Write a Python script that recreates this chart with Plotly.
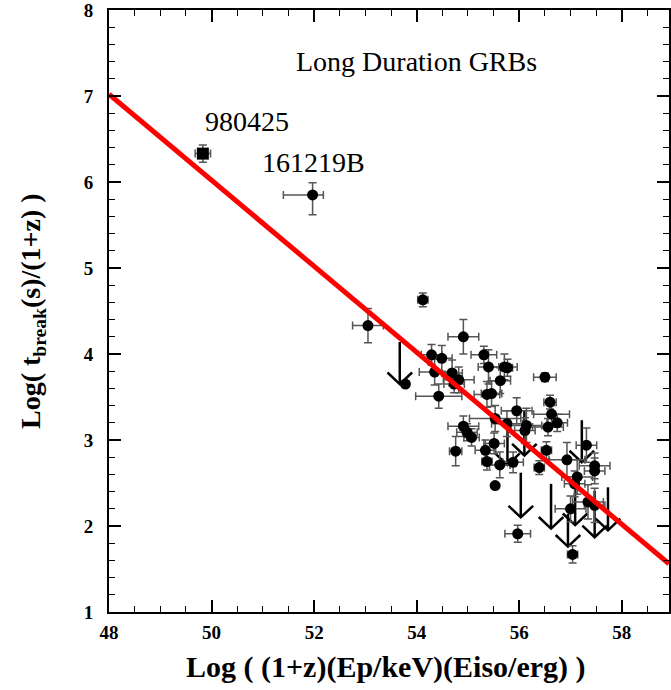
import plotly.graph_objects as go

# ---- data ----
grb_x = [53.05, 54.12, 54.91, 54.29, 54.49, 55.31, 55.40, 55.71, 55.77, 54.35,
         54.69, 54.82, 54.73, 53.78, 55.63, 54.43, 55.37, 55.46, 56.50, 55.95,
         56.60, 56.63, 56.74, 56.56, 55.53, 55.76, 56.14, 56.11, 54.91, 54.98,
         55.07, 55.51, 54.76, 55.34, 55.37, 55.62, 55.88, 56.53, 56.39, 56.93,
         57.31, 57.47, 57.47, 57.13, 57.08, 55.53, 57.34, 57.47, 57.00, 55.97,
         57.04]
grb_y = [4.33, 4.63, 4.20, 3.99, 3.95, 3.99, 3.85, 3.85, 3.84, 3.79,
         3.78, 3.70, 3.65, 3.65, 3.69, 3.51, 3.53, 3.54, 3.73, 3.34,
         3.44, 3.30, 3.20, 3.15, 3.25, 3.19, 3.17, 3.11, 3.16, 3.09,
         3.03, 2.96, 2.87, 2.88, 2.75, 2.71, 2.74, 2.88, 2.68, 2.77,
         2.94, 2.70, 2.64, 2.57, 2.49, 2.47, 2.28, 2.24, 2.20, 1.91,
         1.67]
grb_xerr = [0.30, 0.10, 0.30, 0.20, 0.20, 0.25, 0.20, 0.25, 0.10, 0.30,
            0.20, 0.30, 0.20, 0.00, 0.20, 0.45, 0.25, 0.20, 0.22, 0.30,
            0.12, 0.35, 0.20, 0.30, 0.50, 0.30, 0.30, 0.20, 0.30, 0.20,
            0.15, 0.20, 0.12, 0.20, 0.10, 0.20, 0.20, 0.10, 0.10, 0.35,
            0.20, 0.30, 0.20, 0.30, 0.20, 0.00, 0.30, 0.20, 0.30, 0.25,
            0.10]
grb_yerr = [0.20, 0.08, 0.20, 0.12, 0.15, 0.10, 0.20, 0.15, 0.10, 0.15,
            0.15, 0.15, 0.10, 0.00, 0.15, 0.14, 0.15, 0.15, 0.05, 0.15,
            0.08, 0.10, 0.10, 0.10, 0.15, 0.15, 0.20, 0.15, 0.12, 0.10,
            0.10, 0.12, 0.17, 0.12, 0.10, 0.15, 0.12, 0.10, 0.08, 0.20,
            0.20, 0.15, 0.15, 0.20, 0.15, 0.00, 0.20, 0.20, 0.15, 0.10,
            0.10]

# 161219B (asymmetric errors)
b_x = [51.97]
b_y = [5.85]
b_xerr_lo = [0.57]
b_xerr_hi = [0.21]
b_yerr_lo = [0.23]
b_yerr_hi = [0.14]

# 980425
sq_x = [49.83]
sq_y = [6.33]
sq_xerr = [0.15]
sq_yerr = [0.10]

# upper limits (arrows)
ul_x = [53.67, 57.22, 56.03, 56.62, 56.95, 57.09, 57.47, 57.73, 56.10, 55.77]
ul_y = [4.14, 3.23, 2.62, 2.49, 2.14, 2.45, 2.41, 2.45, 3.34, 3.13]
ul_tip = [3.65, 2.74, 2.10, 1.97, 1.76, 2.01, 1.87, 1.95, 2.82, 2.71]

# best-fit line
fit_slope = -0.5
fit_intercept = 31.02

x_range = [48, 58.92]
y_range = [1, 8]

SERIF = "Liberation Serif"
ERR_COLOR = "#555555"

fig = go.Figure()

# arrows (upper limits)
head_w, head_h = 0.24, 0.135
ax, ay = [], []
for x, top, tip in zip(ul_x, ul_y, ul_tip):
    ax += [x, x, None, x - head_w, x, x + head_w, None]
    ay += [top, tip, None, tip + head_h, tip, tip + head_h, None]
fig.add_trace(go.Scatter(x=ax, y=ay, mode="lines",
                         line=dict(color="black", width=2.5),
                         hoverinfo="skip", showlegend=False))

# main GRB sample
fig.add_trace(go.Scatter(
    x=grb_x, y=grb_y, mode="markers",
    marker=dict(symbol="circle", size=11, color="black"),
    error_x=dict(type="data", array=grb_xerr, color=ERR_COLOR, thickness=1.5, width=4),
    error_y=dict(type="data", array=grb_yerr, color=ERR_COLOR, thickness=1.5, width=4),
    showlegend=False))

# 161219B
fig.add_trace(go.Scatter(
    x=b_x, y=b_y, mode="markers",
    marker=dict(symbol="circle", size=11, color="black"),
    error_x=dict(type="data", symmetric=False, array=b_xerr_hi, arrayminus=b_xerr_lo,
                 color=ERR_COLOR, thickness=1.5, width=4),
    error_y=dict(type="data", symmetric=False, array=b_yerr_hi, arrayminus=b_yerr_lo,
                 color=ERR_COLOR, thickness=1.5, width=4),
    showlegend=False))

# 980425
fig.add_trace(go.Scatter(
    x=sq_x, y=sq_y, mode="markers",
    marker=dict(symbol="square", size=12, color="black"),
    error_x=dict(type="data", array=sq_xerr, color=ERR_COLOR, thickness=1.5, width=4),
    error_y=dict(type="data", array=sq_yerr, color=ERR_COLOR, thickness=1.5, width=4),
    showlegend=False))

# fit line
fig.add_trace(go.Scatter(
    x=x_range, y=[fit_intercept + fit_slope * v for v in x_range],
    mode="lines", line=dict(color="#ff0000", width=5),
    hoverinfo="skip", showlegend=False))

axis_common = dict(
    showgrid=False, zeroline=False, showline=True, linecolor="black", linewidth=2,
    mirror="allticks", ticks="inside", ticklen=12, tickwidth=1.5, tickcolor="black",
    tickfont=dict(family=SERIF, size=19, color="black", weight="bold"),
    ticklabeloverflow="allow",
)

fig.update_xaxes(range=x_range, tickmode="linear", tick0=48, dtick=2,
                 minor=dict(dtick=0.5, ticks="inside", ticklen=6, tickwidth=1.2, tickcolor="black"),
                 ticklabelstandoff=2, **axis_common)
fig.update_yaxes(range=y_range, tickmode="linear", tick0=1, dtick=1,
                 minor=dict(dtick=0.2, ticks="inside", ticklen=6, tickwidth=1.2, tickcolor="black"),
                 ticklabelstandoff=10, **axis_common)

fig.add_annotation(text="Long Duration GRBs", x=53.99, y=7.40, xref="x", yref="y",
                   showarrow=False, font=dict(family=SERIF, size=28, color="black"))
fig.add_annotation(text="980425", x=50.69, y=6.70, xref="x", yref="y",
                   showarrow=False, font=dict(family=SERIF, size=28, color="black"))
fig.add_annotation(text="161219B", x=51.99, y=6.23, xref="x", yref="y",
                   showarrow=False, font=dict(family=SERIF, size=28, color="black"))

fig.add_annotation(text="<b>Log ( (1+z)(Ep/keV)(Eiso/erg) )</b>", x=0.495, y=0,
                   xref="paper", yref="paper", yshift=-55, yanchor="middle",
                   showarrow=False, font=dict(family=SERIF, size=30, color="black"))
fig.add_annotation(text="<b>Log( t<sub>break</sub>(s)/(1+z) )</b>", x=0, y=0.5,
                   xref="paper", yref="paper", xshift=-77, xanchor="center",
                   textangle=-90, showarrow=False,
                   font=dict(family=SERIF, size=28, color="black"))

fig.update_layout(width=671, height=690, margin=dict(l=109, r=0, t=6, b=78),
                  plot_bgcolor="white", paper_bgcolor="white")

fig.write_html("out.html", config={"displayModeBar": False},
               post_script="document.body.style.margin='0';document.body.style.overflow='hidden';")
